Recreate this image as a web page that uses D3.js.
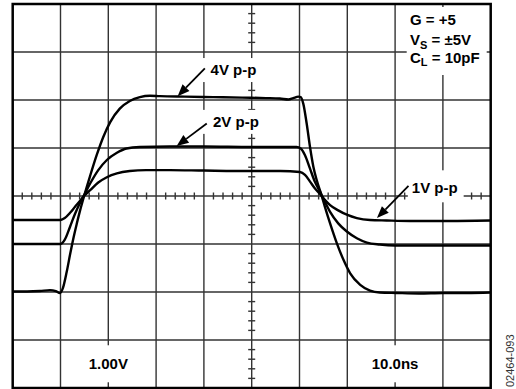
<!DOCTYPE html>
<html>
<head>
<meta charset="utf-8">
<script src="https://cdn.jsdelivr.net/npm/d3@7"></script>
<style>
html, body { margin: 0; padding: 0; background: #fff; }
svg { display: block; }
text { font-family: "Liberation Sans", Arial, Helvetica, sans-serif; }
</style>
</head>
<body>
<svg id="chart" width="516" height="389"></svg>
<script>
// Scope screen: 10 ns/div horizontally, 1 V/div vertically
const timeDomain = [0, 100];
const voltDomain = [-4, 4];
const timeGrid = d3.range(0, 101, 10);
const voltGrid = d3.range(-4, 5, 1);
const timeMinor = d3.range(0, 51).map(i => i * 2);
const voltMinor = d3.range(-20, 21).map(i => i / 5);

// Large-signal pulse response, three output amplitudes
const t4 = [0, 3, 5.7, 7.8, 9.0, 9.9, 10.5, 11.3, 12.0, 12.7, 13.4, 14.1, 15.0, 16.2, 17.6, 18.95, 20.4, 22.4,
  24.5, 26.6, 28.7, 30.8, 36, 42, 48, 53, 55.9, 57.7, 58.7, 59.75, 60.25, 60.8, 61.5, 62.2, 62.9, 63.6,
  64.6, 65.3, 66.4, 67.8, 69.2, 70.6, 72.7, 74.75, 76.8, 80.3, 85, 90, 95, 100];
const v4 = [-1.99, -1.99, -1.98, -1.96, -1.98, -2.02, -1.92, -1.58, -1.22, -0.88, -0.58, -0.30, 0.02, 0.42, 0.86, 1.23, 1.54, 1.82,
  1.98, 2.06, 2.09, 2.08, 2.07, 2.06, 2.05, 2.04, 2.03, 2.01, 2.04, 2.07, 2.06, 1.92, 1.51, 1.02, 0.61, 0.33,
  0.02, -0.22, -0.57, -0.98, -1.33, -1.61, -1.85, -1.97, -2.01, -2.02, -2.03, -2.02, -2.02, -2.01];

const t2 = [0, 5, 10.0, 10.9, 12.0, 13.0, 14.1, 15.0, 16.2, 17.9, 19.7, 21.8, 23.8, 26.6, 32.9, 40, 50, 56,
  59.4, 60.25, 61.15, 62.2, 63.2, 64.3, 65.3, 66.4, 68.1, 69.9, 72.0, 74.1, 76.8, 80, 83.1, 90, 100];
const v2 = [-1.00, -1.00, -1.00, -0.91, -0.64, -0.38, -0.14, 0.03, 0.26, 0.54, 0.75, 0.90, 0.99, 1.02, 1.03, 1.03, 1.02, 1.02,
  1.02, 0.99, 0.85, 0.57, 0.30, 0.09, -0.12, -0.33, -0.57, -0.74, -0.88, -0.97, -1.01, -1.03, -1.03, -1.03, -1.03];

const t1 = [0, 5, 10.0, 10.9, 12.0, 13.0, 14.1, 15.0, 16.2, 17.9, 19.7, 21.8, 24.5, 27.9, 32.9, 40, 50, 56,
  60.1, 61.15, 62.2, 63.2, 64.3, 65.3, 66.4, 68.1, 69.9, 72.0, 74.75, 78.2, 83.1, 90, 100];
const v1 = [-0.50, -0.50, -0.50, -0.46, -0.35, -0.23, -0.10, 0.01, 0.12, 0.28, 0.39, 0.47, 0.52, 0.54, 0.54, 0.53, 0.52, 0.52,
  0.50, 0.44, 0.30, 0.16, 0.04, -0.08, -0.19, -0.30, -0.39, -0.46, -0.50, -0.51, -0.52, -0.52, -0.51];

const seriesLabels = ["4V p-p", "2V p-p", "1V p-p"];
// arrow tail / tip and label anchor, in time (ns) and volts
const arrowTail = [[40.2, 2.66], [40.6, 1.51], [82.8, 0.21]];
const arrowTip  = [[34.5, 2.08], [34.3, 1.04], [76.2, -0.46]];
const labelPos  = [[41.4, 2.52], [41.9, 1.44], [83.5, 0.056]];

const scaleLabels = ["1.00V", "10.0ns"];
const scaleLabelPos = [[20, -3.61], [80, -3.61]];

const conditions = [["G = +5", ""], ["V", "S", " = \u00b15V"], ["C", "L", " = 10pF"]];

const svg = d3.select("#chart");
const W = 516, H = 389;
const L = 12.7, R = 490.7, T = 4, B = 388;

const x = d3.scaleLinear().domain(timeDomain).range([L, R]);
const y = d3.scaleLinear().domain(voltDomain).range([B, T]);

svg.append("rect").attr("width", W).attr("height", H).attr("fill", "#fff");

const gridColor = "#333";

// graticule
const grid = svg.append("g").attr("stroke", gridColor).attr("stroke-width", 1.4);
grid.selectAll("line.v").data(timeGrid.slice(1, -1)).join("line")
  .attr("class", "v")
  .attr("x1", d => x(d)).attr("x2", d => x(d))
  .attr("y1", T).attr("y2", B);
grid.selectAll("line.h").data(voltGrid.slice(1, -1)).join("line")
  .attr("class", "h")
  .attr("x1", L).attr("x2", R)
  .attr("y1", d => y(d)).attr("y2", d => y(d));

// minor ticks on centre axes
const tickLen = 3.5;
grid.selectAll("line.mt").data(timeMinor.filter(d => d % 10 !== 0)).join("line")
  .attr("class", "mt")
  .attr("x1", d => x(d)).attr("x2", d => x(d))
  .attr("y1", y(0) - tickLen).attr("y2", y(0) + tickLen);
grid.selectAll("line.mv").data(voltMinor.filter(d => Math.abs(d - Math.round(d)) > 1e-6)).join("line")
  .attr("class", "mv")
  .attr("x1", x(50) - tickLen).attr("x2", x(50) + tickLen)
  .attr("y1", d => y(d)).attr("y2", d => y(d));

const fontSize = 15;

// helper: white-backed text
function boxedText(g, str, px, py, anchor, pad) {
  const t = g.append("text")
    .attr("x", px).attr("y", py)
    .attr("text-anchor", anchor)
    .attr("font-size", fontSize).attr("font-weight", "bold")
    .attr("fill", "#000")
    .text(str);
  const bb = t.node().getBBox();
  g.insert("rect", "text")
    .attr("x", bb.x - pad[0]).attr("y", bb.y - pad[1])
    .attr("width", bb.width + pad[0] + pad[2])
    .attr("height", bb.height + pad[1] + pad[3])
    .attr("fill", "#fff");
  return t;
}

// conditions box
const cond = svg.append("g");
cond.append("rect").attr("x", 406.7).attr("y", 7).attr("width", 80).attr("height", 68).attr("fill", "#fff");
const condY = [25, 45, 62.7];
conditions.forEach((c, i) => {
  const t = cond.append("text")
    .attr("x", 410).attr("y", condY[i])
    .attr("font-size", fontSize).attr("font-weight", "bold");
  t.append("tspan").text(c[0]);
  if (c.length > 2) {
    t.append("tspan").attr("font-size", 11).attr("dy", 3.5).text(c[1]);
    t.append("tspan").attr("dy", -3.5).text(c[2]);
  }
});

// scale factor readouts
const readouts = svg.append("g");
scaleLabels.forEach((s, i) => {
  boxedText(readouts, s, x(scaleLabelPos[i][0]), y(scaleLabelPos[i][1]), "middle", [10, 10, 10, 10]);
});

// series labels
const labels = svg.append("g");
seriesLabels.forEach((s, i) => {
  const pad = i === 2 ? [4, 9, 6, 6] : [10, 3, 6, 4];
  boxedText(labels, s, x(labelPos[i][0]), y(labelPos[i][1]), "start", pad);
});

// traces
const line = d3.line()
  .x(d => x(d[0])).y(d => y(d[1]))
  .curve(d3.curveMonotoneX);
const traces = [d3.zip(t4, v4), d3.zip(t2, v2), d3.zip(t1, v1)];
svg.append("g").selectAll("path").data(traces).join("path")
  .attr("d", line)
  .attr("fill", "none")
  .attr("stroke", "#000")
  .attr("stroke-width", 2.4)
  .attr("stroke-linejoin", "round");

// arrows
const arrows = svg.append("g");
arrowTail.forEach((tail, i) => {
  const x0 = x(tail[0]), y0 = y(tail[1]);
  const x1 = x(arrowTip[i][0]), y1 = y(arrowTip[i][1]);
  const ang = Math.atan2(y1 - y0, x1 - x0);
  const headL = 12, headW = 4.8;
  const bx = x1 - headL * Math.cos(ang), by = y1 - headL * Math.sin(ang);
  arrows.append("line")
    .attr("x1", x0).attr("y1", y0).attr("x2", bx).attr("y2", by)
    .attr("stroke", "#000").attr("stroke-width", 1.8);
  const px = -Math.sin(ang), py = Math.cos(ang);
  arrows.append("path")
    .attr("d", `M${x1},${y1}L${bx + px * headW},${by + py * headW}L${bx - px * headW},${by - py * headW}Z`)
    .attr("fill", "#000");
});

// frame
svg.append("rect")
  .attr("x", L).attr("y", T).attr("width", R - L).attr("height", B - T)
  .attr("fill", "none").attr("stroke", "#000").attr("stroke-width", 2.5);

// figure code
svg.append("text")
  .attr("transform", "translate(514,387) rotate(-90)")
  .attr("font-size", 11).attr("fill", "#333")
  .text("02464-093");
</script>
</body>
</html>
